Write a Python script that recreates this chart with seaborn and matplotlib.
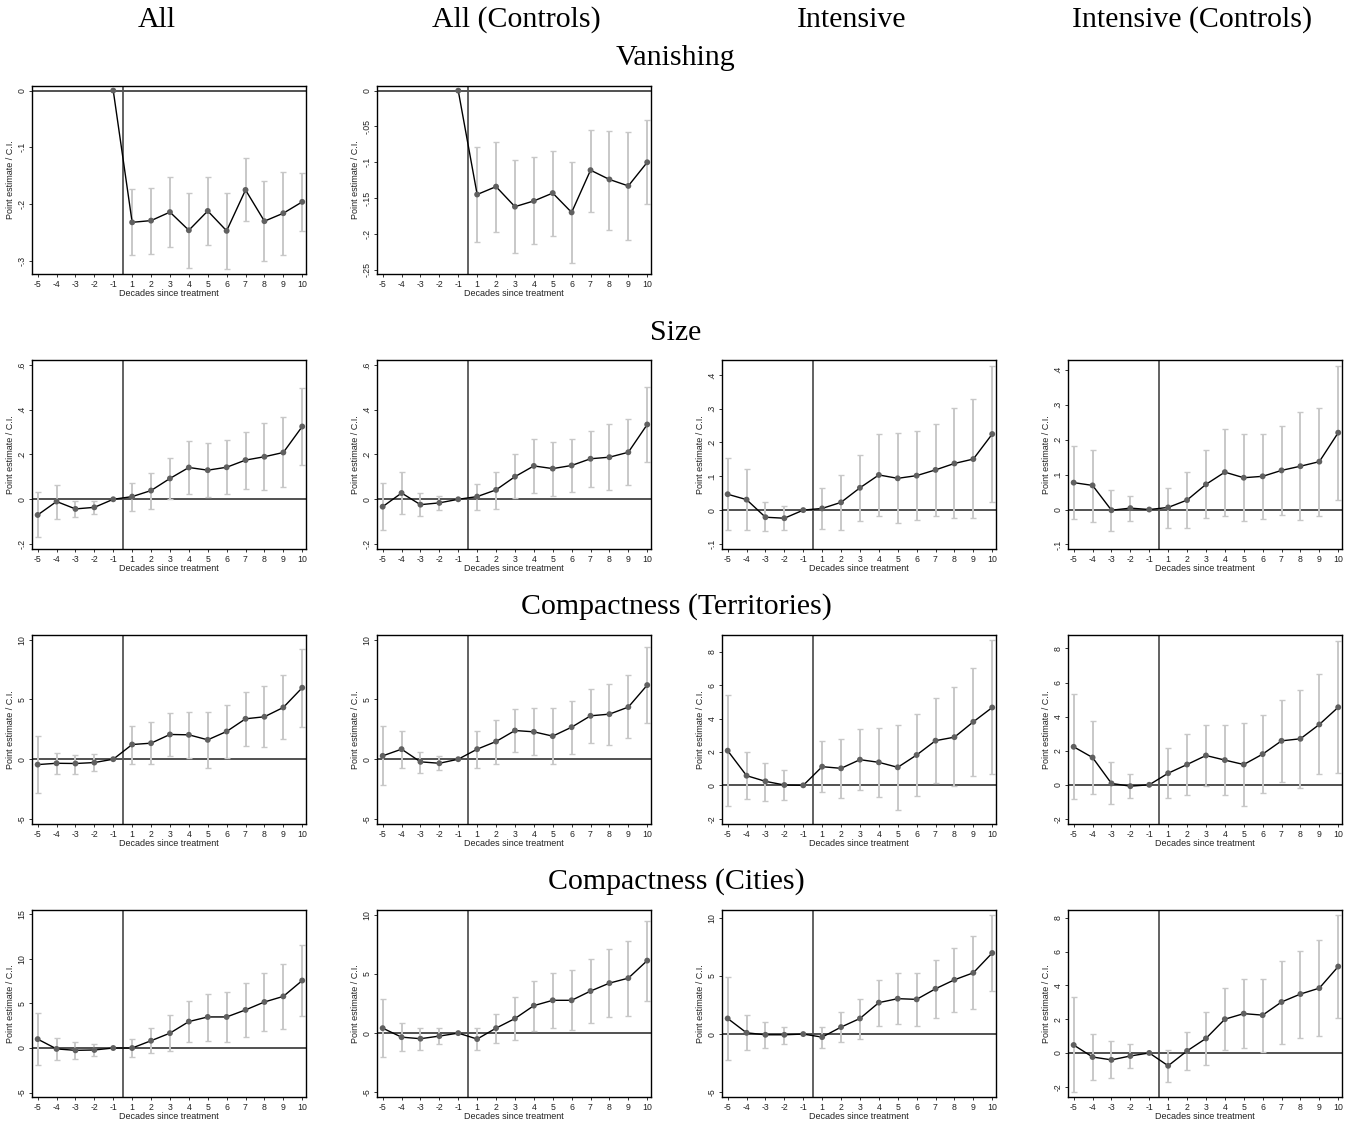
import numpy as np
import pandas as pd
import matplotlib
matplotlib.use("Agg")
import matplotlib.pyplot as plt
import seaborn as sns

nan = np.nan

# ---------------- data ----------------
decades = [-5, -4, -3, -2, -1, 1, 2, 3, 4, 5, 6, 7, 8, 9, 10]
col_titles = ["All", "All (Controls)", "Intensive", "Intensive (Controls)"]
row_titles = ["Vanishing", "Size", "Compactness (Territories)", "Compactness (Cities)"]

# Vanishing (only from -1 on)
van_all_est = [0, -0.232, -0.229, -0.214, -0.246, -0.212, -0.247, -0.175, -0.230, -0.216, -0.196]
van_all_lo = [nan, -0.289, -0.287, -0.275, -0.313, -0.272, -0.314, -0.230, -0.300, -0.289, -0.247]
van_all_hi = [nan, -0.174, -0.171, -0.153, -0.180, -0.153, -0.180, -0.119, -0.160, -0.143, -0.146]

van_ctl_est = [0, -0.145, -0.134, -0.162, -0.154, -0.143, -0.170, -0.111, -0.124, -0.133, -0.100]
van_ctl_lo = [nan, -0.212, -0.197, -0.226, -0.214, -0.203, -0.240, -0.169, -0.194, -0.208, -0.158]
van_ctl_hi = [nan, -0.079, -0.071, -0.097, -0.093, -0.084, -0.099, -0.055, -0.056, -0.058, -0.041]

# Size
size_all_est = [-0.070, -0.010, -0.043, -0.036, 0, 0.012, 0.039, 0.093, 0.142, 0.130, 0.143, 0.175, 0.190, 0.209, 0.325]
size_all_hi = [0.033, 0.063, -0.006, -0.006, nan, 0.073, 0.119, 0.185, 0.260, 0.251, 0.266, 0.301, 0.340, 0.369, 0.496]
size_all_lo = [-0.169, -0.087, -0.081, -0.064, nan, -0.051, -0.042, 0.000, 0.024, 0.009, 0.022, 0.046, 0.040, 0.054, 0.151]

size_ctl_est = [-0.033, 0.028, -0.024, -0.016, 0, 0.012, 0.042, 0.101, 0.149, 0.137, 0.151, 0.181, 0.188, 0.210, 0.334]
size_ctl_hi = [0.073, 0.122, 0.027, 0.015, nan, 0.070, 0.124, 0.200, 0.270, 0.257, 0.270, 0.306, 0.336, 0.360, 0.503]
size_ctl_lo = [-0.137, -0.067, -0.073, -0.048, nan, -0.046, -0.043, 0.006, 0.027, 0.016, 0.033, 0.054, 0.042, 0.064, 0.166]

size_int_est = [0.047, 0.031, -0.021, -0.024, 0, 0.005, 0.023, 0.066, 0.104, 0.094, 0.102, 0.119, 0.138, 0.151, 0.225]
size_int_hi = [0.154, 0.121, 0.023, 0.013, nan, 0.064, 0.103, 0.163, 0.225, 0.227, 0.234, 0.255, 0.301, 0.328, 0.427]
size_int_lo = [-0.058, -0.058, -0.063, -0.059, nan, -0.055, -0.058, -0.031, -0.018, -0.037, -0.030, -0.018, -0.024, -0.024, 0.024]

size_ictl_est = [0.077, 0.069, -0.002, 0.004, 0, 0.006, 0.027, 0.072, 0.107, 0.091, 0.095, 0.112, 0.124, 0.137, 0.220]
size_ictl_hi = [0.181, 0.171, 0.056, 0.040, nan, 0.063, 0.107, 0.170, 0.230, 0.216, 0.217, 0.239, 0.279, 0.291, 0.412]
size_ictl_lo = [-0.026, -0.035, -0.062, -0.032, nan, -0.052, -0.054, -0.025, -0.019, -0.032, -0.028, -0.017, -0.030, -0.019, 0.028]

# Compactness (Territories)
terr_all_est = [-0.45, -0.34, -0.36, -0.28, 0, 1.23, 1.34, 2.07, 2.04, 1.62, 2.32, 3.38, 3.55, 4.33, 5.98]
terr_all_hi = [1.93, 0.53, 0.39, 0.42, nan, 2.77, 3.10, 3.83, 3.97, 3.97, 4.53, 5.64, 6.12, 7.07, 9.25]
terr_all_lo = [-2.82, -1.23, -1.20, -0.98, nan, -0.36, -0.42, 0.31, 0.11, -0.73, 0.11, 1.12, 0.98, 1.65, 2.68]

terr_ctl_est = [0.28, 0.84, -0.22, -0.34, 0, 0.84, 1.48, 2.40, 2.29, 1.93, 2.68, 3.63, 3.77, 4.36, 6.20]
terr_ctl_hi = [2.77, 2.37, 0.59, 0.25, nan, 2.40, 3.32, 4.22, 4.27, 4.27, 4.89, 5.87, 6.31, 7.07, 9.41]
terr_ctl_lo = [-2.18, -0.70, -1.15, -0.92, nan, -0.75, -0.39, 0.59, 0.34, -0.36, 0.45, 1.37, 1.20, 1.76, 3.02]

terr_int_est = [2.08, 0.58, 0.24, 0.02, 0, 1.12, 1.02, 1.54, 1.38, 1.08, 1.82, 2.68, 2.89, 3.81, 4.67]
terr_int_hi = [5.41, 1.98, 1.36, 0.90, nan, 2.63, 2.77, 3.35, 3.41, 3.59, 4.27, 5.21, 5.87, 7.05, 8.70]
terr_int_lo = [-1.26, -0.82, -0.92, -0.88, nan, -0.38, -0.74, -0.26, -0.68, -1.48, -0.62, 0.14, -0.06, 0.58, 0.68]

terr_ictl_est = [2.23, 1.60, 0.08, -0.08, 0, 0.68, 1.19, 1.72, 1.45, 1.19, 1.80, 2.58, 2.70, 3.54, 4.55]
terr_ictl_hi = [5.33, 3.77, 1.31, 0.61, nan, 2.15, 2.99, 3.52, 3.48, 3.61, 4.08, 4.98, 5.57, 6.52, 8.45]
terr_ictl_lo = [-0.84, -0.53, -1.11, -0.78, nan, -0.78, -0.61, -0.06, -0.59, -1.23, -0.51, 0.16, -0.16, 0.61, 0.68]

# Compactness (Cities)
city_all_est = [1.00, -0.10, -0.26, -0.22, 0, 0.00, 0.82, 1.67, 2.97, 3.49, 3.49, 4.28, 5.17, 5.80, 7.58]
city_all_hi = [3.90, 1.10, 0.70, 0.50, nan, 1.00, 2.30, 3.70, 5.28, 6.10, 6.28, 7.29, 8.40, 9.44, 11.52]
city_all_lo = [-1.90, -1.40, -1.20, -0.90, nan, -1.00, -0.56, -0.37, 0.67, 0.82, 0.71, 1.23, 1.93, 2.19, 3.64]

city_ctl_est = [0.42, -0.34, -0.47, -0.25, 0, -0.50, 0.42, 1.23, 2.32, 2.77, 2.77, 3.55, 4.22, 4.64, 6.12]
city_ctl_hi = [2.88, 0.84, 0.45, 0.45, nan, 0.45, 1.62, 3.02, 4.39, 5.08, 5.31, 6.23, 7.07, 7.77, 9.50]
city_ctl_lo = [-2.04, -1.54, -1.40, -0.95, nan, -1.42, -0.81, -0.61, 0.22, 0.47, 0.28, 0.87, 1.40, 1.45, 2.74]

city_int_est = [1.34, 0.11, -0.06, -0.06, 0, -0.26, 0.60, 1.34, 2.70, 3.04, 2.98, 3.89, 4.66, 5.26, 6.96]
city_int_hi = [4.89, 1.62, 1.05, 0.63, nan, 0.65, 1.90, 3.04, 4.63, 5.26, 5.26, 6.39, 7.39, 8.38, 10.26]
city_int_lo = [-2.22, -1.34, -1.16, -0.82, nan, -1.19, -0.71, -0.40, 0.71, 0.85, 0.68, 1.34, 1.93, 2.13, 3.69]

city_ictl_est = [0.47, -0.24, -0.41, -0.18, 0, -0.76, 0.12, 0.86, 2.00, 2.33, 2.24, 3.02, 3.49, 3.84, 5.12]
city_ictl_hi = [3.29, 1.14, 0.69, 0.55, nan, 0.18, 1.25, 2.45, 3.84, 4.37, 4.39, 5.47, 6.06, 6.67, 8.20]
city_ictl_lo = [-2.31, -1.59, -1.49, -0.90, nan, -1.71, -1.00, -0.69, 0.16, 0.27, 0.08, 0.53, 0.90, 1.02, 2.05]

# y-axis ticks per panel
ticks_van_all = [0, -0.1, -0.2, -0.3]
ticks_van_ctl = [0, -0.05, -0.1, -0.15, -0.2, -0.25]
ticks_size_all = [-0.2, 0, 0.2, 0.4, 0.6]
ticks_size_int = [-0.1, 0, 0.1, 0.2, 0.3, 0.4]
ticks_m5_10 = [-5, 0, 5, 10]
ticks_m2_8 = [-2, 0, 2, 4, 6, 8]
ticks_m5_15 = [-5, 0, 5, 10, 15]

# ---------------- style ----------------
sns.set_theme(style="white")
plt.rcParams["font.family"] = ["Liberation Sans", "DejaVu Sans"]

W, H = 1358, 1122
fig = plt.figure(figsize=(W / 100, H / 100), dpi=100)
fig.patch.set_facecolor("white")

col_left = [32, 377, 722, 1068]
row_tb = [(86, 274), (360, 549), (635, 824), (910, 1097)]
AX_W = 274


def stata_fmt(v):
    s = "%g" % v
    if s.startswith("0."):
        s = s[1:]
    elif s.startswith("-0."):
        s = "-" + s[2:]
    return s


def panel(r, c, est, lo, hi, ticks, ylim, start=0):
    top, bot = row_tb[r]
    ax = fig.add_axes([col_left[c] / W, 1 - bot / H, AX_W / W, (bot - top) / H])
    pos = list(range(start, start + len(est)))
    df = pd.DataFrame({"pos": pos, "est": est, "lo": lo, "hi": hi})
    ax.axhline(0, color="#222222", lw=1.1, zorder=1)
    ax.axvline(4.5, color="#555555", lw=1.3, zorder=1)
    d = df.dropna()
    ax.errorbar(d["pos"], d["est"], yerr=[d["est"] - d["lo"], d["hi"] - d["est"]],
                fmt="none", ecolor="#c8c8c8", elinewidth=1.4, capsize=2.2,
                capthick=1.0, zorder=2)
    sns.lineplot(data=df, x="pos", y="est", color="black", lw=1.0, ax=ax,
                 zorder=3, estimator=None, sort=False)
    sns.scatterplot(data=df, x="pos", y="est", color="#606060", s=18,
                    edgecolor="none", ax=ax, zorder=4)
    ax.set_xlim(-0.3, 14.2)
    ax.set_ylim(*ylim)
    ax.set_xticks(range(len(decades)))
    ax.set_xticklabels([str(d_) for d_ in decades], fontsize=6.3, color="#222222")
    ax.set_yticks(ticks)
    ax.set_yticklabels([stata_fmt(t) for t in ticks], fontsize=6.3,
                       color="#222222", rotation=90, va="center")
    ax.tick_params(axis="both", direction="out", length=2.5, width=0.7,
                   color="#333333", pad=1.5, bottom=True, left=True)
    ax.set_xlabel("Decades since treatment", fontsize=6.5, color="#222222", labelpad=0)
    ax.set_ylabel("Point estimate / C.I.", fontsize=6.5, color="#222222", labelpad=2)
    for sp in ax.spines.values():
        sp.set_color("black")
        sp.set_linewidth(1.0)
    ax.grid(False)
    ax.set_facecolor("white")
    return ax


panel(0, 0, van_all_est, van_all_lo, van_all_hi, ticks_van_all, (-0.323, 0.008), start=4)
panel(0, 1, van_ctl_est, van_ctl_lo, van_ctl_hi, ticks_van_ctl, (-0.256, 0.0065), start=4)

panel(1, 0, size_all_est, size_all_lo, size_all_hi, ticks_size_all, (-0.222, 0.622))
panel(1, 1, size_ctl_est, size_ctl_lo, size_ctl_hi, ticks_size_all, (-0.222, 0.622))
panel(1, 2, size_int_est, size_int_lo, size_int_hi, ticks_size_int, (-0.115, 0.444))
panel(1, 3, size_ictl_est, size_ictl_lo, size_ictl_hi, ticks_size_int, (-0.113, 0.428))

panel(2, 0, terr_all_est, terr_all_lo, terr_all_hi, ticks_m5_10, (-5.42, 10.39))
panel(2, 1, terr_ctl_est, terr_ctl_lo, terr_ctl_hi, ticks_m5_10, (-5.42, 10.39))
panel(2, 2, terr_int_est, terr_int_lo, terr_int_hi, ticks_m2_8, (-2.32, 9.02))
panel(2, 3, terr_ictl_est, terr_ictl_lo, terr_ictl_hi, ticks_m2_8, (-2.30, 8.79))

panel(3, 0, city_all_est, city_all_lo, city_all_hi, ticks_m5_15, (-5.5, 15.5))
panel(3, 1, city_ctl_est, city_ctl_lo, city_ctl_hi, ticks_m5_10, (-5.39, 10.39))
panel(3, 2, city_int_est, city_int_lo, city_int_hi, ticks_m5_10, (-5.40, 10.65))
panel(3, 3, city_ictl_est, city_ictl_lo, city_ictl_hi, ticks_m2_8, (-2.61, 8.47))

serif = ["Liberation Serif", "DejaVu Serif"]
col_x = [157, 516, 852, 1192]
for t, x in zip(col_titles, col_x):
    fig.text(x / W, 1 - 20 / H, t, ha="center", va="center", fontsize=21.5,
             family=serif, color="black")
row_y = [58, 333, 607, 882]
for t, y in zip(row_titles, row_y):
    fig.text(676 / W, 1 - y / H, t, ha="center", va="center", fontsize=21.5,
             family=serif, color="black")

fig.savefig("out.png", dpi=100, facecolor="white")
